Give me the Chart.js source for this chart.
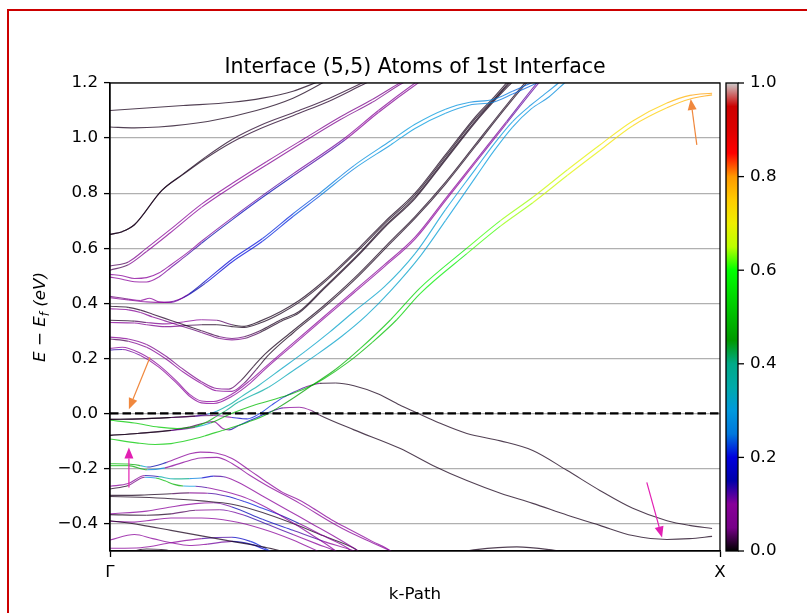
<!DOCTYPE html>
<html>
<head>
<meta charset="utf-8">
<title>Interface (5,5) band structure</title>
<script src="https://cdn.jsdelivr.net/npm/chart.js@4.4.1/dist/chart.umd.min.js"></script>
<style>
    html, body { margin: 0; padding: 0; background: #fff; overflow: hidden; }
    #wrap { position: absolute; left: 0; top: 0; width: 807px; height: 613px; overflow: hidden; }
    #frame { position: absolute; left: 7px; top: 9px; width: 900px; height: 700px; border: 2px solid #cc0000; }
    #bands { position: absolute; left: 0; top: 0; }
</style>
</head>
<body>
<div id="wrap">
    <div id="frame"></div>
    <canvas id="bands" width="807" height="613"></canvas>
</div>
<script>
// axis ticks
const kTicks = [0, 1];
const kLabels = ['Γ', 'X'];
const eTicks = [-0.4, -0.2, 0, 0.2, 0.4, 0.6, 0.8, 1.0, 1.2];
const weightTicks = [0, 0.2, 0.4, 0.6, 0.8, 1.0];
const fermiLine = [[0, 0], [1, 0]];

// each band: [k, E - Ef, weight on interface atoms]
const bandTop1 = [[0,1.10,0.01],[0.12,1.118,0.01],[0.2,1.13,0.01],[0.25,1.145,0.01],[0.3,1.17,0.01],[0.336,1.2,0.01],[0.36,1.22,0.01]];
const bandTop2 = [[0,1.04,0.01],[0.04,1.037,0.01],[0.08,1.04,0.01],[0.16,1.06,0.01],[0.24,1.10,0.01],[0.3,1.145,0.01],[0.348,1.2,0.01],[0.37,1.23,0.01]];
const bandC065a = [[0,0.65,0.01],[0.02,0.66,0.01],[0.04,0.685,0.01],[0.085,0.81,0.01],[0.12,0.87,0.01],[0.156,0.93,0.01],[0.2,0.995,0.015],[0.245,1.045,0.015],[0.31,1.10,0.015],[0.36,1.145,0.015],[0.413,1.2,0.015],[0.44,1.23,0.015]];
const bandC065b = [[0,0.65,0.01],[0.02,0.66,0.01],[0.04,0.685,0.01],[0.085,0.81,0.01],[0.12,0.868,0.01],[0.156,0.925,0.01],[0.2,0.985,0.015],[0.245,1.033,0.015],[0.31,1.09,0.015],[0.36,1.135,0.015],[0.42,1.2,0.015],[0.45,1.23,0.015]];
const bandC053a = [[0,0.535,0.015],[0.03,0.55,0.05],[0.06,0.60,0.08],[0.1,0.67,0.1],[0.15,0.76,0.1],[0.2,0.835,0.09],[0.257,0.915,0.08],[0.32,1.0,0.07],[0.38,1.08,0.06],[0.43,1.14,0.05],[0.475,1.2,0.05],[0.5,1.23,0.05]];
const bandC053b = [[0,0.52,0.01],[0.03,0.54,0.05],[0.06,0.588,0.08],[0.1,0.658,0.1],[0.15,0.748,0.1],[0.2,0.823,0.09],[0.257,0.903,0.08],[0.32,0.99,0.07],[0.38,1.07,0.06],[0.43,1.13,0.05],[0.48,1.2,0.05],[0.51,1.23,0.05]];
const bandC050a = [[0,0.505,0.1],[0.02,0.50,0.1],[0.04,0.49,0.1],[0.06,0.493,0.1],[0.08,0.51,0.1],[0.1,0.54,0.1],[0.125,0.58,0.1],[0.15,0.625,0.1],[0.2,0.71,0.11],[0.249,0.79,0.12],[0.3,0.87,0.12],[0.385,1.0,0.1],[0.44,1.1,0.09],[0.5,1.2,0.08],[0.52,1.23,0.08]];
const bandC050b = [[0,0.495,0.1],[0.02,0.487,0.1],[0.04,0.478,0.1],[0.06,0.477,0.1],[0.08,0.495,0.1],[0.1,0.53,0.11],[0.125,0.573,0.12],[0.15,0.618,0.14],[0.2,0.703,0.16],[0.249,0.783,0.17],[0.3,0.862,0.14],[0.385,0.993,0.11],[0.44,1.093,0.09],[0.505,1.2,0.08],[0.525,1.23,0.08]];
const bandC042a = [[0,0.425,0.01],[0.03,0.415,0.08],[0.05,0.41,0.1],[0.065,0.418,0.1],[0.08,0.405,0.1],[0.1,0.403,0.1],[0.13,0.435,0.12],[0.156,0.48,0.18],[0.2,0.56,0.2],[0.25,0.635,0.21],[0.3,0.725,0.22],[0.344,0.80,0.24],[0.4,0.90,0.27],[0.46,0.99,0.3],[0.5,1.05,0.3],[0.55,1.105,0.3],[0.59,1.13,0.28],[0.628,1.14,0.26],[0.66,1.17,0.24],[0.69,1.2,0.24],[0.71,1.22,0.24]];
const bandC042b = [[0,0.42,0.08],[0.03,0.412,0.1],[0.06,0.405,0.1],[0.09,0.403,0.1],[0.12,0.42,0.12],[0.156,0.472,0.18],[0.2,0.55,0.2],[0.25,0.625,0.21],[0.3,0.715,0.22],[0.344,0.79,0.24],[0.4,0.888,0.27],[0.46,0.975,0.3],[0.5,1.035,0.3],[0.55,1.09,0.3],[0.59,1.12,0.28],[0.628,1.13,0.26],[0.66,1.16,0.24],[0.7,1.2,0.24],[0.72,1.22,0.24]];
const bandV039a = [[0,0.389,0.01],[0.03,0.385,0.01],[0.05,0.375,0.015],[0.07,0.36,0.015],[0.09,0.345,0.015],[0.11,0.33,0.015],[0.13,0.315,0.015],[0.15,0.30,0.015],[0.18,0.278,0.04],[0.2,0.272,0.05],[0.22,0.278,0.04],[0.246,0.30,0.015],[0.28,0.34,0.01],[0.31,0.37,0.01],[0.35,0.455,0.01],[0.41,0.585,0.01],[0.45,0.68,0.01],[0.5,0.785,0.01],[0.55,0.925,0.01],[0.6,1.065,0.01],[0.63,1.14,0.01],[0.655,1.2,0.01],[0.675,1.25,0.01]];
const bandV039b = [[0,0.38,0.09],[0.03,0.376,0.09],[0.05,0.366,0.08],[0.07,0.35,0.07],[0.09,0.336,0.06],[0.11,0.322,0.05],[0.13,0.308,0.04],[0.15,0.294,0.04],[0.18,0.272,0.05],[0.2,0.267,0.06],[0.22,0.272,0.05],[0.246,0.294,0.015],[0.28,0.334,0.01],[0.31,0.365,0.01],[0.35,0.45,0.01],[0.41,0.58,0.01],[0.45,0.675,0.01],[0.5,0.78,0.01],[0.55,0.92,0.01],[0.6,1.06,0.01],[0.63,1.135,0.01],[0.658,1.2,0.01],[0.68,1.25,0.01]];
const bandV034a = [[0,0.338,0.01],[0.04,0.335,0.015],[0.06,0.33,0.05],[0.09,0.325,0.08],[0.12,0.332,0.1],[0.15,0.34,0.1],[0.175,0.338,0.06],[0.2,0.322,0.01],[0.22,0.316,0.01],[0.246,0.335,0.01],[0.28,0.37,0.01],[0.31,0.41,0.01],[0.35,0.48,0.01],[0.41,0.605,0.01],[0.45,0.695,0.01],[0.5,0.8,0.01],[0.55,0.94,0.01],[0.6,1.08,0.01],[0.63,1.15,0.01],[0.65,1.2,0.01],[0.67,1.25,0.01]];
const bandV034b = [[0,0.33,0.1],[0.04,0.328,0.09],[0.06,0.322,0.08],[0.09,0.315,0.06],[0.12,0.318,0.04],[0.15,0.322,0.015],[0.175,0.322,0.01],[0.2,0.315,0.01],[0.22,0.312,0.01],[0.246,0.328,0.01],[0.28,0.363,0.01],[0.31,0.403,0.01],[0.35,0.473,0.01],[0.41,0.598,0.01],[0.45,0.688,0.01],[0.5,0.793,0.01],[0.55,0.933,0.01],[0.6,1.073,0.01],[0.63,1.143,0.01],[0.653,1.2,0.01],[0.673,1.25,0.01]];
const bandV028a = [[0,0.277,0.09],[0.03,0.27,0.09],[0.06,0.25,0.07],[0.09,0.21,0.05],[0.12,0.16,0.05],[0.15,0.115,0.06],[0.175,0.09,0.07],[0.195,0.088,0.06],[0.215,0.12,0.015],[0.235,0.17,0.01],[0.254,0.215,0.01],[0.3,0.3,0.01],[0.35,0.39,0.01],[0.4,0.49,0.01],[0.462,0.63,0.01],[0.5,0.715,0.01],[0.55,0.84,0.01],[0.6,0.98,0.01],[0.65,1.12,0.01],[0.68,1.2,0.01],[0.7,1.25,0.01]];
const bandV028b = [[0,0.27,0.01],[0.03,0.262,0.05],[0.06,0.24,0.08],[0.09,0.2,0.09],[0.12,0.15,0.1],[0.15,0.108,0.1],[0.175,0.082,0.1],[0.2,0.08,0.09],[0.22,0.11,0.05],[0.24,0.16,0.015],[0.26,0.212,0.01],[0.3,0.292,0.01],[0.35,0.383,0.01],[0.4,0.483,0.01],[0.462,0.623,0.01],[0.5,0.708,0.01],[0.55,0.833,0.01],[0.6,0.973,0.01],[0.65,1.113,0.01],[0.683,1.2,0.01],[0.705,1.25,0.01]];
const bandV023a = [[0,0.236,0.1],[0.02,0.24,0.1],[0.05,0.218,0.1],[0.08,0.175,0.1],[0.11,0.115,0.1],[0.13,0.07,0.1],[0.15,0.045,0.1],[0.17,0.043,0.1],[0.2,0.07,0.1],[0.23,0.12,0.1],[0.254,0.167,0.1],[0.3,0.255,0.1],[0.35,0.35,0.1],[0.4,0.445,0.1],[0.45,0.54,0.1],[0.5,0.64,0.1],[0.55,0.78,0.1],[0.6,0.92,0.1],[0.65,1.06,0.11],[0.7,1.2,0.12],[0.72,1.25,0.12]];
const bandV023b = [[0,0.23,0.15],[0.02,0.232,0.12],[0.05,0.21,0.1],[0.08,0.168,0.1],[0.11,0.108,0.1],[0.13,0.063,0.1],[0.15,0.038,0.1],[0.17,0.036,0.1],[0.2,0.062,0.1],[0.23,0.11,0.1],[0.254,0.16,0.1],[0.3,0.248,0.1],[0.35,0.343,0.1],[0.4,0.438,0.1],[0.45,0.533,0.1],[0.5,0.633,0.1],[0.55,0.773,0.1],[0.6,0.913,0.1],[0.65,1.053,0.11],[0.703,1.2,0.12],[0.723,1.25,0.12]];
const bandCyanA = [[0,-0.022,0.01],[0.05,-0.02,0.01],[0.1,-0.015,0.01],[0.14,-0.01,0.05],[0.16,-0.003,0.2],[0.175,0.008,0.35],[0.195,0.03,0.38],[0.215,0.06,0.36],[0.246,0.105,0.34],[0.28,0.16,0.33],[0.32,0.225,0.32],[0.36,0.295,0.32],[0.4,0.37,0.32],[0.45,0.46,0.32],[0.5,0.58,0.32],[0.55,0.74,0.3],[0.6,0.89,0.3],[0.63,0.98,0.3],[0.66,1.06,0.3],[0.69,1.12,0.28],[0.71,1.155,0.28],[0.735,1.2,0.28],[0.75,1.23,0.28]];
const bandCyanB = [[0,-0.025,0.52],[0.04,-0.035,0.52],[0.08,-0.05,0.52],[0.11,-0.055,0.52],[0.14,-0.048,0.52],[0.16,-0.03,0.5],[0.175,-0.01,0.45],[0.19,0.01,0.4],[0.21,0.04,0.37],[0.26,0.095,0.35],[0.3,0.155,0.33],[0.34,0.215,0.32],[0.38,0.28,0.32],[0.42,0.355,0.32],[0.46,0.445,0.32],[0.51,0.575,0.32],[0.55,0.7,0.3],[0.6,0.86,0.3],[0.63,0.955,0.3],[0.66,1.04,0.3],[0.69,1.105,0.28],[0.72,1.15,0.28],[0.745,1.2,0.28],[0.76,1.23,0.28]];
const bandGreenA = [[0,-0.093,0.52],[0.046,-0.108,0.52],[0.074,-0.113,0.52],[0.1,-0.11,0.52],[0.128,-0.098,0.52],[0.155,-0.082,0.52],[0.184,-0.062,0.5],[0.205,-0.048,0.5],[0.226,-0.032,0.5],[0.254,-0.007,0.48],[0.275,0.02,0.45],[0.3,0.055,0.45],[0.33,0.1,0.47],[0.37,0.16,0.48],[0.41,0.235,0.5],[0.46,0.34,0.52],[0.508,0.455,0.55],[0.585,0.6,0.6],[0.64,0.7,0.63],[0.693,0.785,0.65],[0.75,0.885,0.68],[0.803,0.975,0.7],[0.857,1.062,0.73],[0.913,1.127,0.76],[0.951,1.155,0.79],[0.987,1.163,0.8]];
const bandGreenB = [[0,-0.08,0.01],[0.045,-0.073,0.01],[0.1,-0.062,0.015],[0.14,-0.05,0.2],[0.165,-0.035,0.45],[0.185,-0.015,0.5],[0.2,0.0,0.5],[0.23,0.025,0.5],[0.26,0.045,0.5],[0.29,0.065,0.5],[0.32,0.09,0.5],[0.35,0.125,0.5],[0.39,0.185,0.5],[0.43,0.258,0.5],[0.47,0.34,0.52],[0.508,0.434,0.55],[0.585,0.58,0.6],[0.64,0.68,0.63],[0.693,0.765,0.65],[0.75,0.865,0.68],[0.803,0.955,0.7],[0.857,1.045,0.73],[0.913,1.11,0.76],[0.951,1.142,0.78],[0.987,1.157,0.8]];
const bandDip = [[0,-0.08,0.01],[0.045,-0.073,0.01],[0.1,-0.062,0.01],[0.13,-0.05,0.01],[0.155,-0.035,0.05],[0.17,-0.03,0.1],[0.185,-0.055,0.1],[0.195,-0.06,0.1],[0.21,-0.045,0.18],[0.23,-0.025,0.2],[0.246,-0.01,0.2],[0.265,0.008,0.15],[0.284,0.02,0.1],[0.31,0.022,0.1],[0.33,0.01,0.05],[0.344,-0.007,0.01],[0.4,-0.06,0.01],[0.475,-0.127,0.01],[0.53,-0.19,0.01],[0.585,-0.244,0.01],[0.64,-0.29,0.01],[0.693,-0.327,0.01],[0.75,-0.37,0.01],[0.803,-0.407,0.01],[0.857,-0.444,0.01],[0.913,-0.458,0.01],[0.95,-0.455,0.01],[0.987,-0.447,0.01]];
const bandHump = [[0,-0.022,0.01],[0.05,-0.02,0.01],[0.1,-0.015,0.01],[0.14,-0.01,0.015],[0.17,-0.008,0.05],[0.2,-0.015,0.15],[0.225,-0.02,0.2],[0.246,0.0,0.22],[0.265,0.03,0.22],[0.284,0.058,0.2],[0.3,0.076,0.15],[0.32,0.095,0.1],[0.344,0.109,0.015],[0.37,0.11,0.01],[0.4,0.1,0.01],[0.44,0.07,0.01],[0.475,0.03,0.01],[0.5,0.005,0.01],[0.54,-0.035,0.01],[0.585,-0.073,0.01],[0.64,-0.1,0.01],[0.693,-0.135,0.01],[0.749,-0.207,0.01],[0.803,-0.28,0.01],[0.857,-0.345,0.01],[0.913,-0.39,0.01],[0.95,-0.407,0.01],[0.987,-0.418,0.01]];
const bandArcA = [[0,-0.183,0.5],[0.03,-0.184,0.5],[0.05,-0.19,0.45],[0.061,-0.195,0.2],[0.093,-0.178,0.1],[0.131,-0.147,0.1],[0.148,-0.141,0.1],[0.175,-0.145,0.1],[0.2,-0.164,0.1],[0.229,-0.207,0.1],[0.257,-0.25,0.1],[0.283,-0.287,0.1],[0.311,-0.316,0.1],[0.339,-0.353,0.1],[0.366,-0.39,0.1],[0.393,-0.422,0.1],[0.43,-0.465,0.1],[0.46,-0.5,0.1],[0.47,-0.52,0.1]];
const bandArcB = [[0,-0.19,0.5],[0.03,-0.19,0.5],[0.061,-0.205,0.45],[0.09,-0.198,0.1],[0.12,-0.178,0.1],[0.148,-0.162,0.1],[0.175,-0.16,0.1],[0.2,-0.182,0.1],[0.229,-0.225,0.1],[0.257,-0.262,0.1],[0.311,-0.327,0.1],[0.366,-0.40,0.1],[0.393,-0.432,0.1],[0.43,-0.47,0.1],[0.47,-0.51,0.1]];
const bandM027a = [[0,-0.265,0.1],[0.03,-0.255,0.1],[0.057,-0.226,0.08],[0.08,-0.23,0.2],[0.105,-0.238,0.5],[0.13,-0.237,0.3],[0.15,-0.235,0.22],[0.17,-0.228,0.15],[0.19,-0.232,0.1],[0.21,-0.25,0.1],[0.25,-0.3,0.1],[0.29,-0.35,0.1],[0.33,-0.4,0.1],[0.37,-0.45,0.1],[0.4,-0.49,0.1],[0.42,-0.52,0.1]];
const bandM027b = [[0,-0.275,0.01],[0.03,-0.262,0.015],[0.057,-0.232,0.08],[0.075,-0.235,0.5],[0.09,-0.245,0.5],[0.105,-0.258,0.5],[0.12,-0.264,0.45],[0.14,-0.265,0.15],[0.16,-0.27,0.1],[0.19,-0.285,0.1],[0.22,-0.305,0.1],[0.25,-0.335,0.1],[0.29,-0.385,0.1],[0.33,-0.44,0.1],[0.37,-0.5,0.1],[0.38,-0.52,0.1]];
const bandM030a = [[0,-0.298,0.01],[0.05,-0.297,0.01],[0.1,-0.292,0.01],[0.13,-0.289,0.05],[0.16,-0.29,0.1],[0.19,-0.3,0.15],[0.22,-0.32,0.2],[0.25,-0.345,0.22],[0.28,-0.37,0.2],[0.31,-0.4,0.1],[0.35,-0.445,0.1],[0.39,-0.49,0.1],[0.4,-0.51,0.1]];
const bandM030b = [[0,-0.302,0.01],[0.05,-0.305,0.01],[0.1,-0.31,0.01],[0.15,-0.318,0.01],[0.2,-0.33,0.01],[0.25,-0.36,0.01],[0.3,-0.4,0.01],[0.35,-0.445,0.01],[0.4,-0.49,0.01],[0.41,-0.505,0.01]];
const bandM036a = [[0,-0.365,0.1],[0.06,-0.355,0.1],[0.1,-0.34,0.1],[0.14,-0.328,0.1],[0.17,-0.325,0.1],[0.2,-0.34,0.12],[0.25,-0.385,0.2],[0.3,-0.425,0.15],[0.35,-0.465,0.1],[0.4,-0.5,0.1],[0.41,-0.51,0.1]];
const bandM036b = [[0,-0.368,0.01],[0.06,-0.37,0.01],[0.1,-0.365,0.015],[0.14,-0.352,0.05],[0.18,-0.35,0.1],[0.22,-0.37,0.12],[0.26,-0.405,0.15],[0.3,-0.44,0.1],[0.34,-0.475,0.1],[0.37,-0.5,0.1],[0.38,-0.51,0.1]];
const bandM039a = [[0,-0.39,0.01],[0.05,-0.405,0.01],[0.1,-0.425,0.01],[0.15,-0.445,0.01],[0.2,-0.465,0.01],[0.25,-0.485,0.01],[0.28,-0.5,0.01],[0.29,-0.51,0.01]];
const bandM039b = [[0,-0.392,0.1],[0.04,-0.395,0.1],[0.06,-0.39,0.1],[0.1,-0.38,0.1],[0.15,-0.38,0.1],[0.2,-0.392,0.1],[0.25,-0.42,0.1],[0.3,-0.46,0.1],[0.34,-0.5,0.1],[0.35,-0.51,0.1]];
const bandM046 = [[0,-0.46,0.1],[0.04,-0.44,0.1],[0.07,-0.455,0.1],[0.1,-0.47,0.1],[0.13,-0.48,0.1],[0.16,-0.475,0.1],[0.2,-0.465,0.12],[0.23,-0.475,0.2],[0.26,-0.5,0.2],[0.27,-0.51,0.2]];
const bandM049 = [[0,-0.49,0.1],[0.05,-0.488,0.1],[0.1,-0.47,0.1],[0.15,-0.455,0.1],[0.2,-0.45,0.15],[0.23,-0.465,0.2],[0.25,-0.485,0.22],[0.27,-0.51,0.22]];
const bandEdgeG = [[0.02,-0.51,0.01],[0.06,-0.493,0.01],[0.1,-0.5,0.01],[0.11,-0.51,0.01]];
const bandEdgeX = [[0.56,-0.51,0.01],[0.6,-0.495,0.01],[0.667,-0.485,0.01],[0.72,-0.495,0.01],[0.76,-0.51,0.01]];

const bands = [
    bandTop1, bandTop2, bandC065a, bandC065b, bandC053a, bandC053b, bandC050a, bandC050b,
    bandC042a, bandC042b, bandV039a, bandV039b, bandV034a, bandV034b, bandV028a, bandV028b,
    bandV023a, bandV023b, bandCyanA, bandCyanB, bandGreenA, bandGreenB, bandDip, bandHump,
    bandArcA, bandArcB, bandM027a, bandM027b, bandM030a, bandM030b, bandM036a, bandM036b,
    bandM039a, bandM039b, bandM046, bandM049, bandEdgeG, bandEdgeX
];

// annotation arrows: [kTail, eTail, kHead, eHead]
const arrowsOrange = [[0.0656, 0.204, 0.031, 0.015], [0.962, 0.975, 0.952, 1.142]];
const arrowsMagenta = [[0.031, -0.269, 0.031, -0.124], [0.880, -0.251, 0.905, -0.451]];

// nipy_spectral colormap
const specPos = [0,0.05,0.1,0.15,0.2,0.25,0.3,0.35,0.4,0.45,0.5,0.55,0.6,0.65,0.7,0.75,0.8,0.85,0.9,0.95,1];
const specR = [0,0.4667,0.5333,0,0,0,0,0,0,0,0,0,0,0.7333,0.9333,1,1,1,0.8667,0.8,0.8];
const specG = [0,0,0,0,0,0.4667,0.6,0.6667,0.6667,0.6,0.7333,0.8667,1,1,0.9333,0.8,0.6,0,0,0,0.8];
const specB = [0,0.5333,0.6,0.6667,0.8667,0.8667,0.8667,0.6667,0.5333,0,0,0,0,0,0,0,0,0,0,0,0.8];

function spectral(t, alpha = 1) {
    t = Math.min(1, Math.max(0, t));
    const i = Math.min(19, Math.floor(t / 0.05));
    const f = (t - specPos[i]) / 0.05;
    const c = arr => Math.round((arr[i] + (arr[i + 1] - arr[i]) * f) * 255);
    return `rgba(${c(specR)},${c(specG)},${c(specB)},${alpha})`;
}

function fmtTick(v) {
    const s = Math.abs(v).toFixed(1);
    return v < -1e-9 ? '\u2212' + s : s;
}

const lineAlpha = 0.75;

const datasets = [{
    data: fermiLine.map(p => ({x: p[0], y: p[1]})),
    borderColor: '#000',
    borderWidth: 2.4,
    borderDash: [8.5, 4],
    pointRadius: 0,
    order: 0
}];

bands.forEach(b => {
    const w = b.map(p => p[2]);
    datasets.push({
        data: b.map(p => ({x: p[0], y: p[1]})),
        borderColor: spectral(w[0], lineAlpha),
        borderWidth: 1.1,
        pointRadius: 0,
        cubicInterpolationMode: 'monotone',
        order: 1,
        segment: {
            borderColor: ctx => spectral((w[ctx.p0DataIndex] + w[ctx.p1DataIndex]) / 2, lineAlpha)
        }
    });
});

function drawArrow(ctx, x0, y0, x1, y1, color) {
    const ang = Math.atan2(y1 - y0, x1 - x0);
    const hl = 11, hw = 4.5;
    const bx = x1 - hl * Math.cos(ang), by = y1 - hl * Math.sin(ang);
    ctx.strokeStyle = color;
    ctx.fillStyle = color;
    ctx.lineWidth = 1.2;
    ctx.beginPath();
    ctx.moveTo(x0, y0);
    ctx.lineTo(bx, by);
    ctx.stroke();
    ctx.beginPath();
    ctx.moveTo(x1, y1);
    ctx.lineTo(bx + hw * Math.sin(ang), by - hw * Math.cos(ang));
    ctx.lineTo(bx - hw * Math.sin(ang), by + hw * Math.cos(ang));
    ctx.closePath();
    ctx.fill();
}

const decor = {
    id: 'decor',
    afterDatasetsDraw(chart) {
        const {ctx, chartArea: a, scales} = chart;
        const xs = scales.x, ys = scales.y, cs = scales.cb;
        ctx.save();

        arrowsOrange.forEach(r => drawArrow(ctx, xs.getPixelForValue(r[0]), ys.getPixelForValue(r[1]),
            xs.getPixelForValue(r[2]), ys.getPixelForValue(r[3]), '#f0883e'));
        arrowsMagenta.forEach(r => drawArrow(ctx, xs.getPixelForValue(r[0]), ys.getPixelForValue(r[1]),
            xs.getPixelForValue(r[2]), ys.getPixelForValue(r[3]), '#e21fb3'));

        // axes frame
        ctx.strokeStyle = '#000';
        ctx.lineWidth = 1.3;
        ctx.strokeRect(a.left, a.top, a.right - a.left, a.bottom - a.top);

        // colorbar
        const x0 = a.right + 6, x1 = a.right + 18;
        const yTop = cs.getPixelForValue(1), yBot = cs.getPixelForValue(0);
        const g = ctx.createLinearGradient(0, yBot, 0, yTop);
        specPos.forEach(p => g.addColorStop(p, spectral(p)));
        ctx.fillStyle = g;
        ctx.fillRect(x0, yTop, x1 - x0, yBot - yTop);
        ctx.strokeRect(x0, yTop, x1 - x0, yBot - yTop);
        weightTicks.forEach(v => {
            const y = cs.getPixelForValue(v);
            ctx.beginPath();
            ctx.moveTo(x1, y);
            ctx.lineTo(x1 + 6, y);
            ctx.stroke();
        });

        // title
        ctx.fillStyle = '#000';
        ctx.font = '20.5px "DejaVu Sans"';
        ctx.textAlign = 'center';
        ctx.textBaseline = 'alphabetic';
        ctx.fillText('Interface (5,5) Atoms of 1st Interface', (a.left + a.right) / 2, 73);

        // y label with subscript
        ctx.translate(39, (a.top + a.bottom) / 2);
        ctx.rotate(-Math.PI / 2);
        const big = 'italic 16.7px "DejaVu Sans"', small = 'italic 11.7px "DejaVu Sans"';
        const parts = [['E \u2212 E', big, 0], ['f', small, 4], [' (eV)', big, 0]];
        let total = 0;
        parts.forEach(p => { ctx.font = p[1]; total += ctx.measureText(p[0]).width; });
        let x = -total / 2;
        ctx.textAlign = 'left';
        parts.forEach(p => {
            ctx.font = p[1];
            ctx.fillText(p[0], x, 6 + p[2]);
            x += ctx.measureText(p[0]).width;
        });
        ctx.restore();
    }
};

Chart.defaults.font.family = '"DejaVu Sans", sans-serif';
Chart.defaults.color = '#000';

new Chart(document.getElementById('bands'), {
    type: 'line',
    data: {datasets},
    options: {
        responsive: false,
        animation: false,
        devicePixelRatio: 1,
        layout: {padding: {top: 83, left: 0, right: 0, bottom: 0}},
        plugins: {legend: {display: false}, tooltip: {enabled: false}},
        scales: {
            x: {
                type: 'linear', min: 0, max: 1, position: 'bottom',
                afterFit: s => { s.height = 62; },
                afterBuildTicks: s => { s.ticks = kTicks.map(v => ({value: v})); },
                ticks: {callback: (v, i) => kLabels[i], font: {size: 16.7}, padding: 6, maxRotation: 0, autoSkip: false},
                grid: {drawOnChartArea: false, tickLength: 6, tickColor: '#000', tickWidth: 1.3},
                border: {color: '#000', width: 1.3},
                title: {display: true, text: 'k-Path', font: {size: 16.7}, padding: {top: 8, bottom: 8}}
            },
            y: {
                type: 'linear', min: -0.5, max: 1.2, position: 'left',
                afterFit: s => { s.width = 110; },
                afterBuildTicks: s => { s.ticks = eTicks.map(v => ({value: v})); },
                ticks: {callback: v => fmtTick(v), font: {size: 16.7}, padding: 6},
                grid: {color: '#b0b0b0', lineWidth: 1.2, tickColor: '#000', tickLength: 6, tickWidth: 1.3},
                border: {color: '#000', width: 1.3}
            },
            cb: {
                type: 'linear', min: 0, max: 1, position: 'right',
                afterFit: s => { s.width = 87; },
                afterBuildTicks: s => { s.ticks = weightTicks.map(v => ({value: v})); },
                ticks: {callback: v => v.toFixed(1), font: {size: 16.7}, padding: 30},
                grid: {display: false, drawTicks: false},
                border: {display: false}
            }
        }
    },
    plugins: [decor]
});
</script>
</body>
</html>
